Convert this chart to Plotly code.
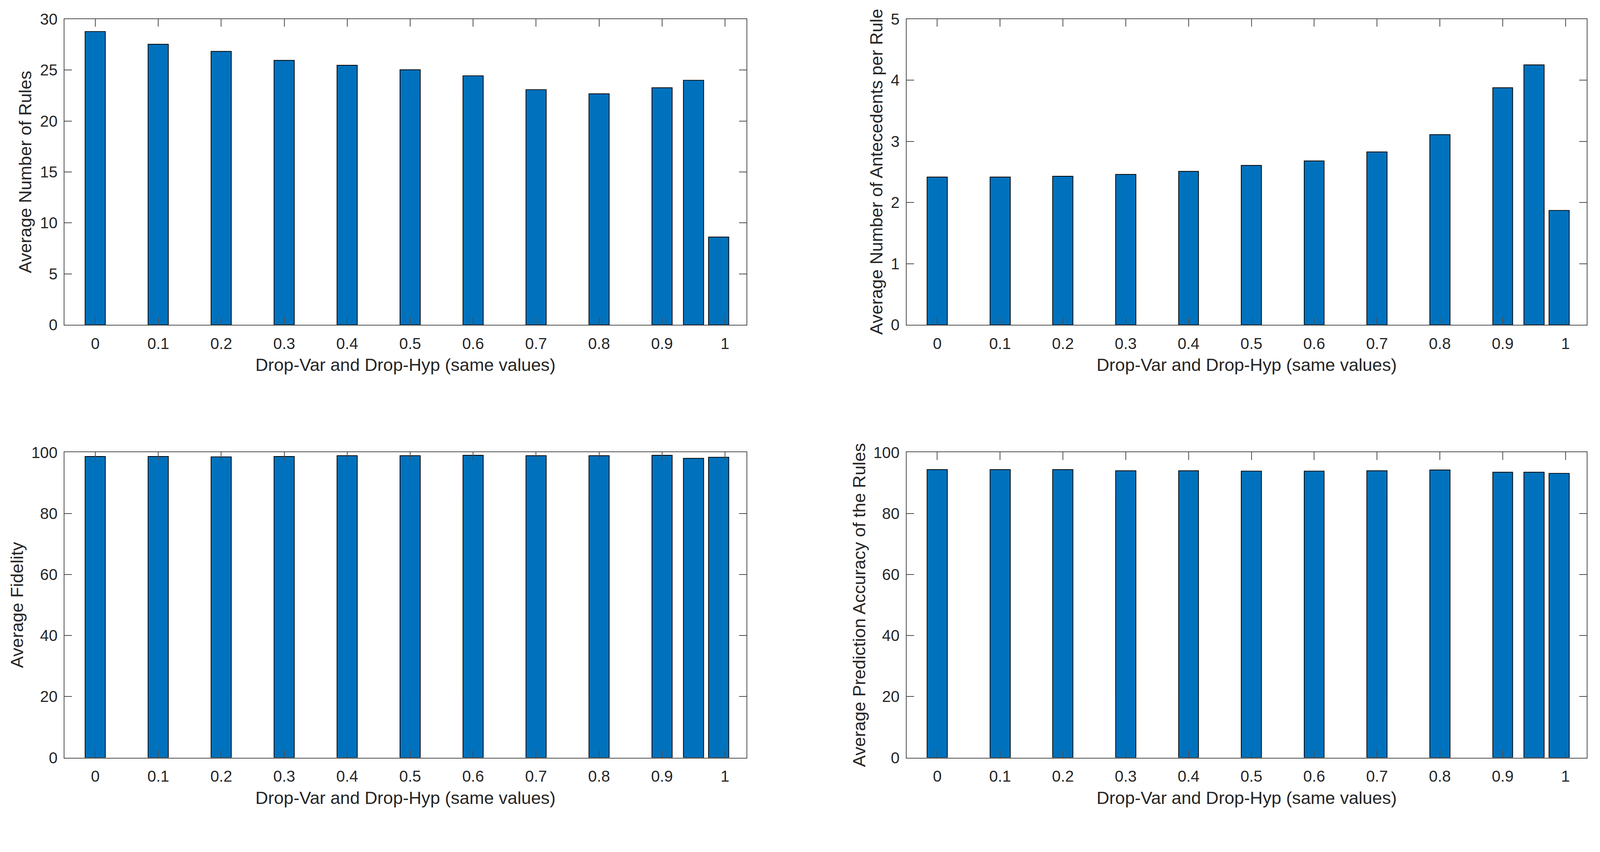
import plotly.graph_objects as go

W, H = 4268, 2180

# ---- data ----
drop_values = [0, 0.1, 0.2, 0.3, 0.4, 0.5, 0.6, 0.7, 0.8, 0.9, 0.95, 0.99]
avg_rules = [28.8, 27.55, 26.85, 25.96, 25.49, 25.04, 24.43, 23.07, 22.67, 23.26, 24.0, 8.6]
avg_antecedents = [2.42, 2.42, 2.43, 2.46, 2.51, 2.61, 2.68, 2.83, 3.11, 3.88, 4.25, 1.87]
avg_fidelity = [98.7, 98.7, 98.5, 98.7, 98.9, 98.9, 99.0, 98.9, 98.9, 99.0, 98.0, 98.4]
avg_accuracy = [94.4, 94.4, 94.3, 94.0, 94.0, 93.9, 93.9, 94.0, 94.2, 93.5, 93.5, 93.1]

x_tickvals = [0, 0.1, 0.2, 0.3, 0.4, 0.5, 0.6, 0.7, 0.8, 0.9, 1]
x_ticktext = ["0", "0.1", "0.2", "0.3", "0.4", "0.5", "0.6", "0.7", "0.8", "0.9", "1"]
x_title = "Drop-Var and Drop-Hyp (same values)"

panels = [
    dict(y=avg_rules, title="Average Number of Rules", yrange=[0, 30], dtick=5),
    dict(y=avg_antecedents, title="Average Number of Antecedents per Rule", yrange=[0, 5], dtick=1),
    dict(y=avg_fidelity, title="Average Fidelity", yrange=[0, 100], dtick=20),
    dict(y=avg_accuracy, title="Average Prediction Accuracy of the Rules", yrange=[0, 100], dtick=20),
]

# ---- layout geometry (pixels) ----
col_px = [(172, 1991), (2418, 4233)]
row_px = [(51, 866), (1206, 2020)]
ytitle_off = [105, 81, 127, 127]

FONT = "Liberation Sans, Arial, Helvetica, sans-serif"
AX_COLOR = "#262626"
LINE_COLOR = "#4d4d4d"
BAR_COLOR = "#0072BD"

def px2x(px):
    return px / W

def px2y(py):
    return 1 - py / H

fig = go.Figure()
annotations = []

for i, p in enumerate(panels):
    r, c = divmod(i, 2)
    x0, x1 = col_px[c]
    y0, y1 = row_px[r]
    n = i + 1
    xa = "x" if n == 1 else f"x{n}"
    ya = "y" if n == 1 else f"y{n}"
    fig.add_trace(go.Bar(
        x=drop_values, y=p["y"], width=0.032,
        marker=dict(color=BAR_COLOR, line=dict(color="#000000", width=2)),
        xaxis=xa, yaxis=ya, showlegend=False,
    ))
    common = dict(
        showline=True, linecolor=LINE_COLOR, linewidth=2, mirror="ticks",
        ticks="inside", ticklen=20, tickwidth=2, tickcolor=LINE_COLOR,
        showgrid=False, zeroline=False,
        tickfont=dict(family=FONT, size=42, color=AX_COLOR),
        automargin=False,
    )
    fig.layout[f"xaxis{n if n > 1 else ''}"] = dict(
        domain=[px2x(x0), px2x(x1)], range=[-0.049, 1.034],
        tickvals=x_tickvals, ticktext=x_ticktext,
        anchor=ya, ticklabelstandoff=12, **common,
    )
    fig.layout[f"yaxis{n if n > 1 else ''}"] = dict(
        domain=[px2y(y1), px2y(y0)], range=p["yrange"], dtick=p["dtick"],
        tick0=0, anchor=xa, ticklabelstandoff=8, **common,
    )
    annotations.append(dict(
        text=x_title, xref="paper", yref="paper",
        x=px2x((x0 + x1) / 2), y=px2y(y1 + 106),
        xanchor="center", yanchor="middle", showarrow=False,
        font=dict(family=FONT, size=47, color=AX_COLOR),
    ))
    annotations.append(dict(
        text=p["title"], xref="paper", yref="paper",
        x=px2x(x0 - ytitle_off[i]), y=px2y((y0 + y1) / 2),
        xanchor="center", yanchor="middle", textangle=-90, showarrow=False,
        font=dict(family=FONT, size=47, color=AX_COLOR),
    ))

fig.update_layout(
    width=W, height=H,
    margin=dict(l=0, r=0, t=0, b=0),
    paper_bgcolor="white", plot_bgcolor="white",
    bargap=0, annotations=annotations,
)

# fit the fixed-size figure into whatever viewport the page is opened in
fit_js = """
document.documentElement.style.overflow = 'hidden';
document.body.style.margin = '0';
document.body.style.overflow = 'hidden';
var gd = document.getElementById('{plot_id}');
function fitFigure() {
    var s = Math.min(window.innerWidth / %d, window.innerHeight / %d);
    gd.style.transformOrigin = '0 0';
    gd.style.transform = 'scale(' + s + ')';
}
fitFigure();
window.addEventListener('resize', fitFigure);
""" % (W, H)

fig.write_html("out.html", post_script=fit_js, config={"displayModeBar": False})
